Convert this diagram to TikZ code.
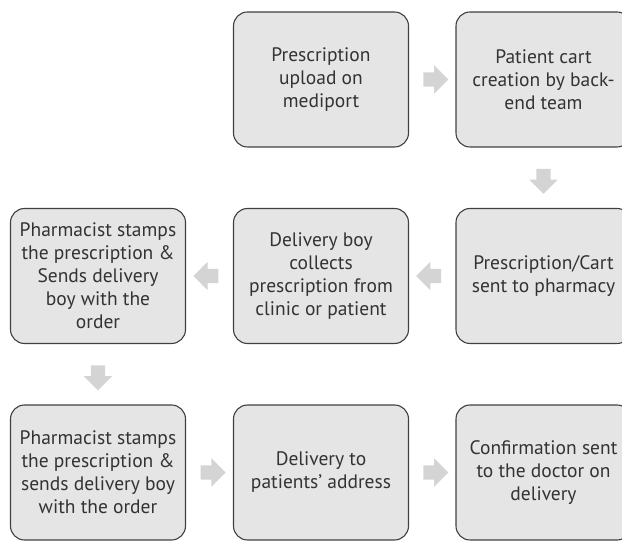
\documentclass[tikz,border=0pt]{standalone}
\usepackage{fontspec}
\setmainfont{PT Sans}
\usetikzlibrary{shapes.arrows}

\tikzset{
  stepbox/.style={draw=black!75, fill=black!10, rounded corners=14pt, line width=1.1pt,
    minimum width=175pt, minimum height=135pt, align=center, inner sep=2pt,
    font=\fontsize{19.5}{23}\selectfont, text=black!80},
  blockarrow/.style={single arrow, fill=black!17, draw=none, inner xsep=0pt, inner ysep=7pt,
    minimum height=25pt, single arrow head extend=7pt, single arrow head indent=0pt}
}

\begin{document}
\begin{tikzpicture}[x=1pt,y=1pt]
				\useasboundingbox (0,0) rectangle (622,541);
				\clip (0,0) rectangle (622,541);
				
				% Top row
				\node[stepbox] (upload) at (321,461.5) {Prescription\\upload on\\mediport};
				\node[stepbox] (cart) at (543.5,461.5) {Patient cart\\creation by back-\\end team};
				
				% Middle row
				\node[stepbox] (pharmacy) at (543.5,265) {Prescription/Cart\\sent to pharmacy};
				\node[stepbox] (collect) at (321,265) {Delivery boy\\collects\\prescription from\\clinic or patient};
				\node[stepbox] (stampA) at (98,265) {Pharmacist stamps\\the prescription \&\\Sends delivery\\boy with the\\order};
				
				% Bottom row
				\node[stepbox] (stampB) at (98,68.5) {Pharmacist stamps\\the prescription \&\\sends delivery boy\\with the order};
				\node[stepbox] (address) at (321,68.5) {Delivery to\\patients’ address};
				\node[stepbox] (confirm) at (543.5,68.5) {Confirmation sent\\to the doctor on\\delivery};
				
				% Block arrows between steps
				\path (upload) -- node[blockarrow] {} (cart);
				\path (cart) -- node[blockarrow, rotate=-90] {} (pharmacy);
				\path (pharmacy) -- node[blockarrow, rotate=180] {} (collect);
				\path (collect) -- node[blockarrow, rotate=180] {} (stampA);
				\path (stampA) -- node[blockarrow, rotate=-90] {} (stampB);
				\path (stampB) -- node[blockarrow] {} (address);
				\path (address) -- node[blockarrow] {} (confirm);
				
			\end{tikzpicture}
\end{document}
